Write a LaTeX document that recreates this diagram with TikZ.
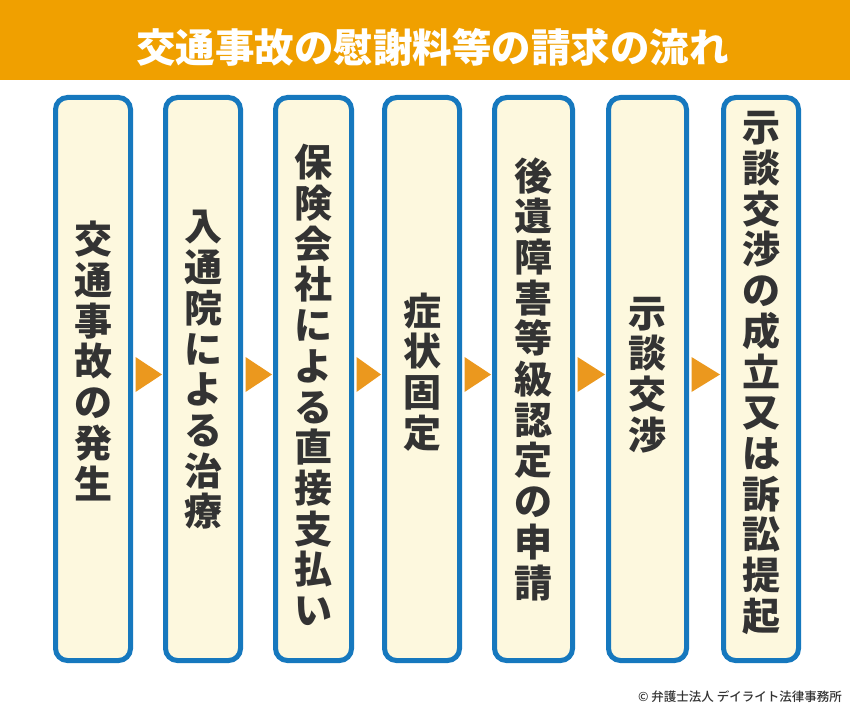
\documentclass[tikz,border=0pt]{standalone}
\usepackage{fontspec}
\newfontfamily\cjk{Noto Sans CJK JP}
\newfontfamily\cjkm{Noto Sans CJK JP Medium}
\usetikzlibrary{calc}
\definecolor{headc}{RGB}{240,160,0}
\definecolor{arrc}{RGB}{235,152,30}
\definecolor{boxb}{RGB}{22,120,190}
\definecolor{boxf}{RGB}{253,248,222}
\definecolor{txtc}{RGB}{51,51,51}
\tikzset{
  stepbox/.style={draw=boxb, fill=boxf, line width=5pt, rounded corners=12pt,
    minimum height=563pt, inner sep=0pt},
  steptext/.style={text=txtc, align=center, inner sep=0pt,
    font=\cjk\bfseries\fontsize{38}{40.7}\selectfont},
  flowarrow/.style={fill=arrc, draw=none},
}
\begin{document}
\begin{tikzpicture}[x=1pt,y=-1pt]
\useasboundingbox (0,0) rectangle (850,714);
\fill[white] (0,0) rectangle (850,714);
\fill[headc] (0,0) rectangle (850,80);
\node[text=white, font=\cjk\bfseries\fontsize{39.5}{44}\selectfont, inner sep=0pt] (title) at (432.5,47) {交通事故の慰謝料等の請求の流れ};

\node[stepbox, minimum width=75pt] (b1) at (93,379) {};
\node[stepbox, minimum width=75pt] (b2) at (203,379) {};
\node[stepbox, minimum width=76pt] (b3) at (313.5,379) {};
\node[stepbox, minimum width=75pt] (b4) at (422,379) {};
\node[stepbox, minimum width=78pt] (b5) at (533.5,379) {};
\node[stepbox, minimum width=78pt] (b6) at (647.5,379) {};
\node[stepbox, minimum width=75pt] (b7) at (761,379) {};

\node[steptext] (t1) at (93,361) {交\\通\\事\\故\\の\\発\\生};
\node[steptext] (t2) at (203,370) {入\\通\\院\\に\\よ\\る\\治\\療};
\node[steptext] (t3) at (313.5,385) {保\\険\\会\\社\\に\\よ\\る\\直\\接\\支\\払\\い};
\node[steptext] (t4) at (422,372) {症\\状\\固\\定};
\node[steptext] (t5) at (533.5,379) {後\\遺\\障\\害\\等\\級\\認\\定\\の\\申\\請};
\node[steptext] (t6) at (647.5,375) {示\\談\\交\\渉};
\node[steptext] (t7) at (761,373) {示\\談\\交\\渉\\の\\成\\立\\又\\は\\訴\\訟\\提\\起};

\foreach \a/\b in {b1/b2,b2/b3,b3/b4,b4/b5,b5/b6,b6/b7}{
  \fill[flowarrow] ($(\a.east)+(2.5,-22)$) -- ($(\b.west)+(-1,-4.5)$) -- ($(\a.east)+(2.5,13)$) -- cycle;
}

\node[anchor=east, text=txtc, font=\cjkm\fontsize{12.5}{14}\selectfont, inner sep=0pt] (copy) at (842,697) {© 弁護士法人 デイライト法律事務所};
\end{tikzpicture}
\end{document}
